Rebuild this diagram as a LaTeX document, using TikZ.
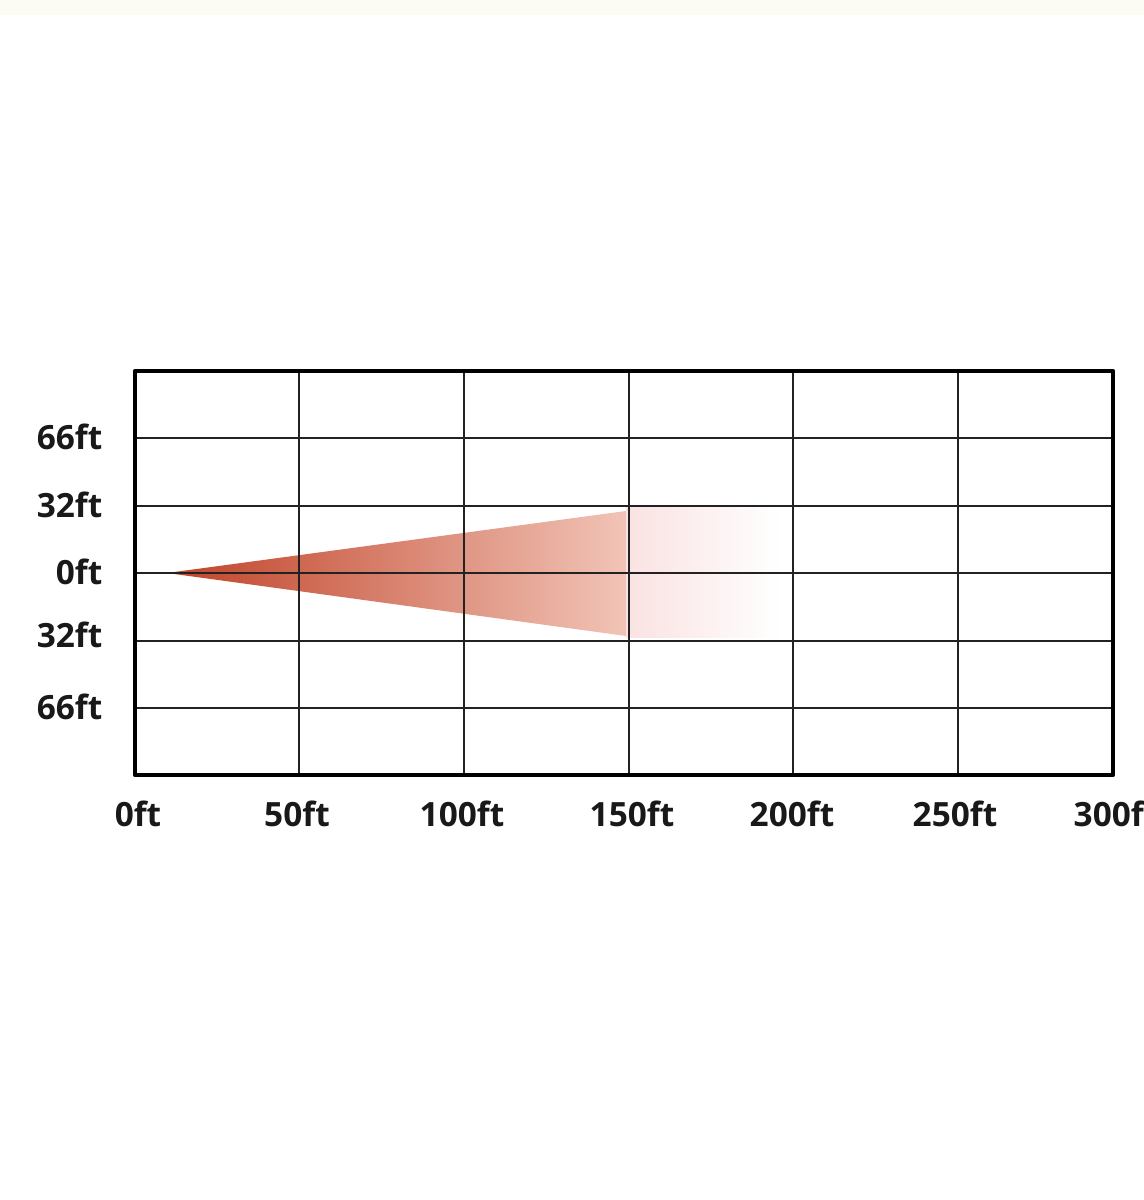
\documentclass[tikz,border=0pt]{standalone}
\usepackage{fontspec}
\setmainfont{Open Sans}
\usepackage{xcolor}
\usetikzlibrary{calc}

\definecolor{beamdark}{RGB}{192,66,40}
\definecolor{beammid}{RGB}{228,128,98}
\definecolor{beamlight}{RGB}{241,196,183}
\definecolor{beampale}{RGB}{250,226,226}
\definecolor{gridline}{RGB}{34,34,34}
\definecolor{edgetint}{RGB}{252,252,244}

\tikzset{
  axislabel/.style={font=\fontsize{9.5}{11}\selectfont\bfseries,inner sep=0pt,text=black!90},
  gridthin/.style={line width=0.75pt,draw=gridline},
  gridframe/.style={line width=1.2pt,draw=black}
}

\begin{document}
\begin{tikzpicture}[line join=round]
  \useasboundingbox (0,0) rectangle (11.44,12.00);
  \fill[white] (0,0) rectangle (11.44,12.00);
  \fill[edgetint] (0,11.85) rectangle (11.44,12.00);
  \coordinate (SW) at (1.35,4.25);
  \coordinate (NE) at (11.13,8.29);
  \coordinate (APEX) at (1.67,6.27);
  \coordinate (BT) at (6.26,6.89);
  \coordinate (BB) at (6.26,5.64);
  % beam cone
  \shade[left color=beamdark,middle color=beammid,right color=beamlight] (APEX) -- (BT) -- (BB) -- cycle;
  % fading tail
  \shade[left color=beampale,right color=white] (6.26,6.92) rectangle (7.82,5.62);
  % grid
  \foreach \gx in {2.99,4.64,6.29,7.93,9.58}
    \draw[gridthin] (\gx,4.25) -- (\gx,8.29);
  \foreach \gy in {7.62,6.94,6.27,5.59,4.92}
    \draw[gridthin] (1.35,\gy) -- (11.13,\gy);
  \draw[gridframe] (SW) rectangle (NE);
  % vertical axis labels
  \node[axislabel,anchor=east] (y66a) at (1.03,7.63) {66ft};
  \node[axislabel,anchor=east] (y32a) at (1.03,6.95) {32ft};
  \node[axislabel,anchor=east] (y0) at (1.03,6.28) {0ft};
  \node[axislabel,anchor=east] (y32b) at (1.03,5.65) {32ft};
  \node[axislabel,anchor=east] (y66b) at (1.03,4.93) {66ft};
  % horizontal axis labels
  \node[axislabel] (x0) at (1.38,3.86) {0ft};
  \node[axislabel] (x50) at (2.97,3.86) {50ft};
  \node[axislabel] (x100) at (4.62,3.86) {100ft};
  \node[axislabel] (x150) at (6.32,3.86) {150ft};
  \node[axislabel] (x200) at (7.92,3.86) {200ft};
  \node[axislabel] (x250) at (9.55,3.86) {250ft};
  \node[axislabel] (x300) at (11.16,3.86) {300ft};
\end{tikzpicture}
\end{document}
